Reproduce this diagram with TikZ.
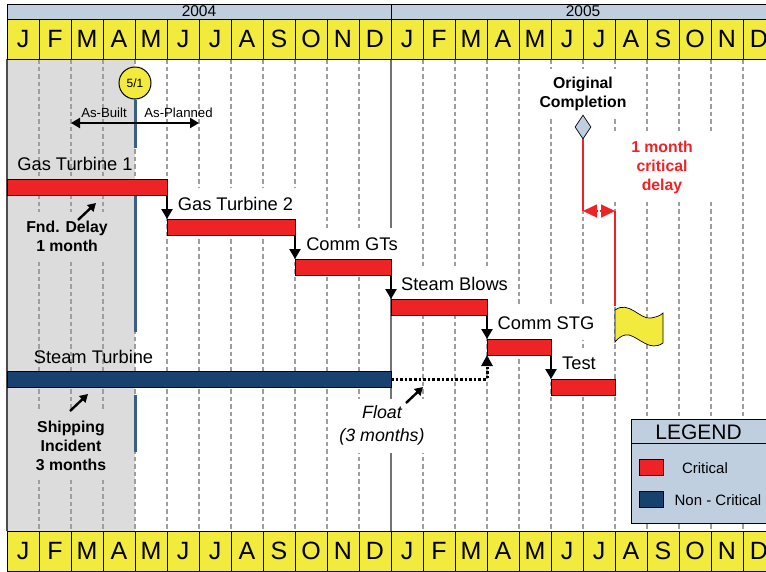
\documentclass[tikz,border=0pt]{standalone}
\usepackage{fontspec}
\setmainfont{Liberation Sans}
\usetikzlibrary{
  arrows.meta,
  shapes.geometric
}
\definecolor{gtyellow}{HTML}{F2EA3C}
\definecolor{gtband}{HTML}{BFCFDF}
\definecolor{gtred}{HTML}{EE2326}
\definecolor{gtblue}{HTML}{17426F}
\definecolor{gtshade}{HTML}{DCDCDC}

\begin{document}
\begin{tikzpicture}[
  x=1pt, y=-1pt,
  month/.style={draw, fill=gtyellow, line width=1pt, minimum width=32pt, minimum height=40pt,
    inner sep=0pt, outer sep=0pt, font=\fontsize{25}{25}\selectfont},
  yearcell/.style={draw, fill=gtband, line width=1pt, minimum width=384pt, minimum height=15pt,
    inner sep=0pt, outer sep=0pt, font=\fontsize{15.5}{15.5}\selectfont},
  gridline/.style={draw=black!38, line width=1.3pt, dash pattern=on 4.5pt off 3pt},
  bar/.style={draw=black, line width=1pt, anchor=north west, minimum height=16pt,
    inner sep=0pt, outer sep=0pt},
  critical/.style={bar, fill=gtred},
  noncritical/.style={bar, fill=gtblue},
  tasklabel/.style={inner sep=0pt, font=\fontsize{18.3}{20}\selectfont},
  masked/.style={tasklabel, fill=white},
  note/.style={align=center, inner sep=0pt, font=\fontsize{15.8}{19}\selectfont\bfseries},
  link/.style={-{Triangle[length=10pt,width=11pt]}, line width=2.6pt},
  pointer/.style={-{Triangle[length=8pt,width=9pt]}, line width=2.4pt},
  dataline/.style={draw=gtblue!85!white, line width=3pt}
]

  \clip (0,0) rectangle (766,571);

  % as-built shading
  \fill[gtshade] (7,59) rectangle (135,531);

  % grid
  \foreach \x in {39,71,...,743}
    \draw[gridline] (\x,59) -- (\x,531);
  \draw[black!55, line width=1.3pt] (391,59) -- (391,531);
  \draw[black!70, line width=2pt] (7,59) -- (7,531);

  % data date
  \foreach \a/\b in {100/148,195/332,395/452}
    \draw[dataline] (135,\a) -- (135,\b);

  % calendar
  \node[yearcell] (y2004) at (199,11.5) {2004};
  \node[yearcell] (y2005) at (583,11.5) {2005};
  \foreach \m [count=\i from 0] in {J,F,M,A,M,J,J,A,S,O,N,D,J,F,M,A,M,J,J,A,S,O,N,D} {
    \node[month] (top\i) at (23+32*\i,39) {\m};
    \node[month] (bot\i) at (23+32*\i,551) {\m};
  }

  % data date marker
  \node[circle, draw, fill=gtyellow, line width=1pt, minimum size=32pt, inner sep=0pt,
    font=\fontsize{12}{12}\selectfont] (datadate) at (135,83) {5/1};
  \coordinate (builtend) at (71,123);
  \coordinate (planend) at (199,123);
  \draw[{Triangle[length=9pt,width=10pt]}-{Triangle[length=9pt,width=10pt]}, line width=2.4pt]
    (builtend) -- (planend);
  \node[font=\fontsize{13.2}{14}\selectfont, inner sep=0pt] (asbuilt) at (104,113) {As-Built};
  \node[font=\fontsize{13.2}{14}\selectfont, inner sep=0pt] (asplanned) at (178.5,113) {As-Planned};

  % labels, white ones hide the grid
  \node[tasklabel] (lgt1) at (75,163.5) {Gas Turbine 1};
  \node[masked, minimum width=127pt, minimum height=32pt] (lgt2) at (235.5,204) {Gas Turbine 2};
  \node[masked, minimum width=104pt, minimum height=33pt] (lcomm) at (352,244) {Comm GTs};
  \node[masked, minimum width=119pt, minimum height=33pt] (lblows) at (454.5,284) {Steam Blows};
  \node[masked, minimum width=112pt, minimum height=33pt] (lstg) at (546,323.5) {Comm STG};
  \node[masked, minimum width=57pt, minimum height=32pt] (ltest) at (579,363.5) {Test};
  \node[tasklabel] (lst) at (93.5,356.5) {Steam Turbine};

  % bars
  \node[critical, minimum width=160pt] (gt1) at (7,179) {};
  \node[critical, minimum width=128pt] (gt2) at (167,219) {};
  \node[critical, minimum width=96pt] (comm) at (295,259) {};
  \node[critical, minimum width=96pt] (blows) at (391,299) {};
  \node[critical, minimum width=64pt] (stg) at (487,339) {};
  \node[critical, minimum width=64pt] (test) at (551,379) {};
  \node[noncritical, minimum width=384pt] (st) at (7,371) {};

  \draw[link] (gt1.south east) -- (gt2.north west);
  \draw[link] (gt2.south east) -- (comm.north west);
  \draw[link] (comm.south east) -- (blows.north west);
  \draw[link] (blows.south east) -- (stg.north west);
  \draw[link] (stg.south east) -- (test.north west);
  \draw[link, line width=3pt, dash pattern=on 2.6pt off 2pt, -{Triangle[length=11pt,width=11pt]}]
    (st.east) -| (stg.south west);

  % notes
  \node[note, fill=gtshade, minimum width=100pt, minimum height=49pt] (fnd) at (67,236)
    {Fnd. Delay\\1 month};
  \node[note, fill=gtshade, minimum width=100pt, minimum height=68pt] (ship) at (71,446)
    {Shipping\\Incident\\3 months};
  \coordinate (fndtip) at (96,203);
  \coordinate (shiptip) at (88,394);
  \coordinate (floattip) at (423,387);
  \draw[pointer] (78,220) -- (fndtip);
  \draw[pointer] (70,411) -- (shiptip);

  \node[align=center, fill=white, inner sep=0pt, minimum width=96pt, minimum height=54pt,
    font=\fontsize{17.8}{23}\selectfont\itshape] (float) at (382,425.5) {Float\\(3 months)};
  \draw[pointer] (406,403) -- (floattip);

  % completion and delay
  \node[note, fill=white, minimum width=86pt, minimum height=49pt] (orig) at (583,93.5)
    {Original\\Completion};
  \node[note, fill=white, text=gtred, minimum width=110pt, minimum height=69pt] (delay) at (662,167)
    {1 month\\critical\\delay};
  \node[diamond, draw, fill=gtband, line width=.7pt, minimum width=16pt, minimum height=24pt,
    inner sep=0pt] (origmark) at (583,127) {};
  \coordinate (origdrop) at (583,211);
  \coordinate (delaydrop) at (615,211);
  \draw[gtred, line width=1.2pt] (origmark.south) -- (origdrop);
  \draw[gtred, line width=1.2pt] (delaydrop) -- (615,306);
  \draw[gtred, line width=1.4pt, dash pattern=on 1pt off 2pt,
    {Triangle[length=14pt,width=13pt]}-{Triangle[length=14pt,width=13pt]}] (origdrop) -- (delaydrop);

  % flag
  \draw[fill=gtyellow, line width=.7pt] (615,342) -- (615,310)
    .. controls (629,300) and (640,320) .. (651,318)
    .. controls (656,317) and (660,316) .. (663,313)
    -- (663,343)
    .. controls (650,352) and (640,338) .. (629,335)
    .. controls (624,334) and (619,337) .. (615,342) -- cycle;

  % legend
  \node[draw, fill=gtband, line width=1pt, anchor=north west, minimum width=144pt, minimum height=104pt,
    inner sep=0pt, outer sep=0pt] (legend) at (631,419) {};
  \node[draw, fill=gtband, line width=1pt, anchor=north west, minimum width=144pt, minimum height=24pt,
    inner sep=0pt, outer sep=0pt] (legendhead) at (631,419) {};
  \node[font=\fontsize{21}{21}\selectfont, inner sep=0pt] (legendtitle) at (698.5,432.5) {LEGEND};
  \node[critical, minimum width=24pt] (keycrit) at (639,459) {};
  \node[noncritical, minimum width=24pt] (keynon) at (639,491) {};
  \node[font=\fontsize{15}{16}\selectfont, inner sep=0pt] (keycrittext) at (705,468.5) {Critical};
  \node[font=\fontsize{15}{16}\selectfont, inner sep=0pt] (keynontext) at (718,500.5) {Non - Critical};

\end{tikzpicture}
\end{document}
